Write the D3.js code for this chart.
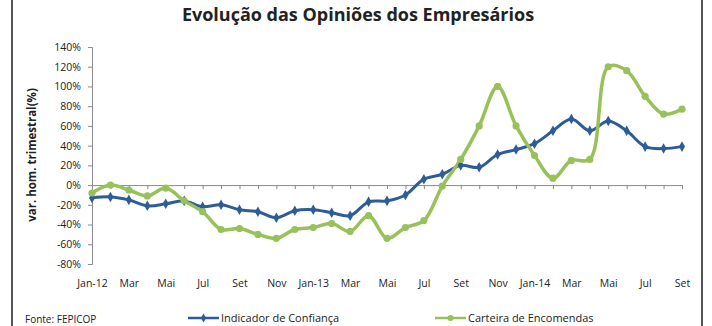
<!DOCTYPE html>
<html>
<head>
<meta charset="utf-8">
<script src="https://cdn.jsdelivr.net/npm/d3@7"></script>
<style>
  html, body { margin: 0; padding: 0; background: #fff; }
  svg { display: block; }
  text { font-family: "Open Sans", "Noto Sans", sans-serif; }
</style>
</head>
<body>
<svg id="chart" width="712" height="326"></svg>
<script>
// ---- data ----
const months = ["Jan-12","Fev","Mar","Abr","Mai","Jun","Jul","Ago","Set","Out","Nov","Dez",
                "Jan-13","Fev","Mar","Abr","Mai","Jun","Jul","Ago","Set","Out","Nov","Dez",
                "Jan-14","Fev","Mar","Abr","Mai","Jun","Jul","Ago","Set"];
const confianca = [-13,-12,-15,-21,-19,-16,-22,-20,-25,-27,-33,-26,
                   -25,-28,-31,-17,-16,-10,6,11,20,18,31,36,
                   42,55,67,55,65,55,39,37,39];
const encomendas = [-8,0,-5,-11,-3,-16,-27,-45,-44,-50,-54,-45,
                    -43,-39,-47,-31,-54,-43,-36,-1,26,60,100,60,
                    30,7,25,26,120,116,90,72,77];
const yTicks = [-80,-60,-40,-20,0,20,40,60,80,100,120,140];
const seriesNames = ["Indicador de Confiança","Carteira de Encomendas"];
const title = "Evolução das Opiniões dos Empresários";
const yTitle = "var. hom. trimestral(%)";
const source = "Fonte: FEPICOP";

// ---- layout ----
const svg = d3.select("#chart");
const blue = "#2d5d98", green = "#98c15a", axisCol = "#8a8a8a", txt = "#222";

svg.append("rect").attr("width",712).attr("height",326).attr("fill","#fff");
// frame
svg.append("line").attr("x1",12).attr("x2",12).attr("y1",0).attr("y2",326).attr("stroke","#555").attr("stroke-width",2);
svg.append("line").attr("x1",702).attr("x2",702).attr("y1",0).attr("y2",326).attr("stroke","#555").attr("stroke-width",2);

svg.append("text").attr("x",358).attr("y",21).attr("text-anchor","middle")
  .attr("font-weight","bold").attr("font-size",18).attr("fill",txt).text(title);

const x = d3.scaleLinear().domain([0, months.length-1]).range([92, 682]);
const y = d3.scaleLinear().domain([-80, 140]).range([264, 47]);

// y axis
const gy = svg.append("g").attr("transform","translate(92,0)")
  .call(d3.axisLeft(y).tickValues(yTicks).tickSize(4).tickPadding(7).tickFormat(d => d + "%"));
gy.select(".domain").attr("stroke",axisCol);
gy.selectAll(".tick line").attr("stroke",axisCol);
gy.selectAll("text").attr("font-size",10.5).attr("fill",txt).attr("font-family","Open Sans, sans-serif");

// x axis at zero
const gx = svg.append("g").attr("transform",`translate(0,${y(0)})`)
  .call(d3.axisBottom(x).tickValues(d3.range(months.length)).tickSize(4).tickFormat(""));
gx.select(".domain").attr("stroke",axisCol);
gx.selectAll(".tick line").attr("stroke",axisCol);

// x labels (low position)
const gl = svg.append("g").attr("transform","translate(0,280)")
  .call(d3.axisBottom(x).tickValues(d3.range(0, months.length, 2)).tickSize(0).tickPadding(0)
        .tickFormat(i => months[i]));
gl.select(".domain").remove();
gl.selectAll("text").attr("font-size",10.5).attr("fill",txt).attr("font-family","Open Sans, sans-serif");

// y title
svg.append("text").attr("transform","translate(36,155) rotate(-90)").attr("text-anchor","middle")
  .attr("font-weight","bold").attr("font-size",11.5).attr("fill",txt).text(yTitle);

// lines
const curve = d3.curveCatmullRom.alpha(0.5);
const line = d3.line().x((d,i)=>x(i)).y(d=>y(d)).curve(curve);

svg.append("path").datum(confianca).attr("d",line).attr("fill","none")
  .attr("stroke",blue).attr("stroke-width",3).attr("stroke-linejoin","round");
svg.append("path").datum(encomendas).attr("d",line).attr("fill","none")
  .attr("stroke",green).attr("stroke-width",3.5).attr("stroke-linejoin","round");

const diamond = d3.symbol().type(d3.symbolDiamond).size(32);
svg.append("g").selectAll("path").data(confianca).join("path")
  .attr("d",diamond).attr("transform",(d,i)=>`translate(${x(i)},${y(d)})`).attr("fill",blue);
svg.append("g").selectAll("circle").data(encomendas).join("circle")
  .attr("cx",(d,i)=>x(i)).attr("cy",d=>y(d)).attr("r",3.6).attr("fill",green);

// legend
const legend = [
  {name: seriesNames[0], color: blue, x0: 188, marker: "diamond"},
  {name: seriesNames[1], color: green, x0: 435, marker: "circle"}
];
const ly = 318;
legend.forEach(l => {
  svg.append("line").attr("x1",l.x0).attr("x2",l.x0+31).attr("y1",ly).attr("y2",ly)
    .attr("stroke",l.color).attr("stroke-width",2.5);
  if (l.marker === "diamond") {
    svg.append("path").attr("d",d3.symbol().type(d3.symbolDiamond).size(24)())
      .attr("transform",`translate(${l.x0+15.5},${ly})`).attr("fill",l.color);
  } else {
    svg.append("circle").attr("cx",l.x0+15.5).attr("cy",ly).attr("r",3).attr("fill",l.color);
  }
  svg.append("text").attr("x",l.x0+33).attr("y",ly+4).attr("font-size",11).attr("fill",txt).text(l.name);
});

svg.append("text").attr("x",25).attr("y",323).attr("font-size",10).attr("fill",txt).text(source);
</script>
</body>
</html>
